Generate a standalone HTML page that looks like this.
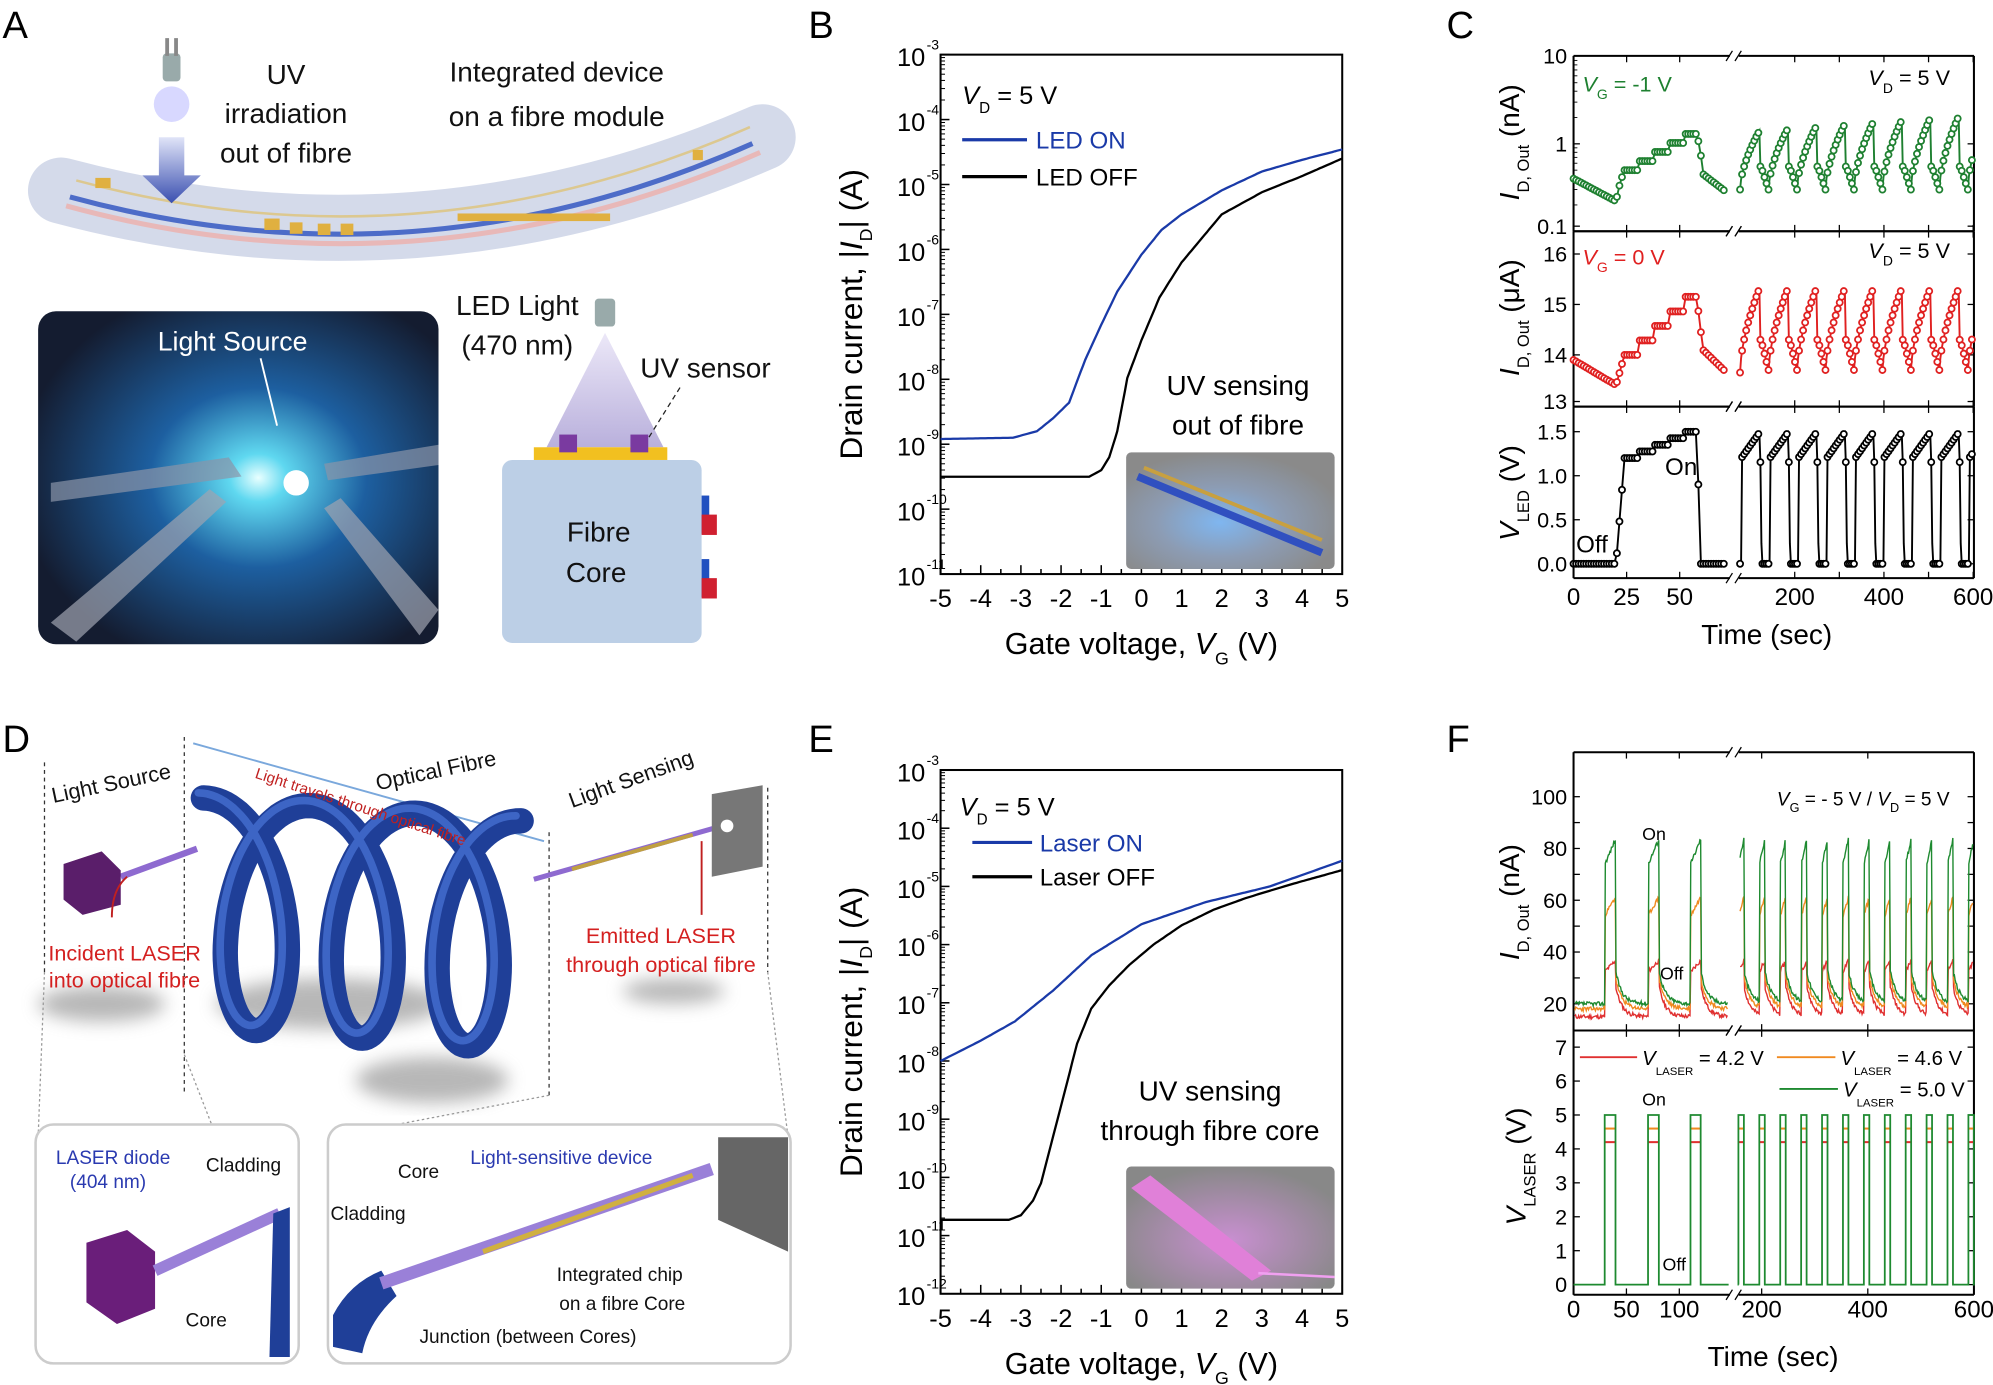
<!DOCTYPE html>
<html><head><meta charset="utf-8">
<style>
html,body{margin:0;padding:0;background:#fff;}
svg{display:block;}
text{font-family:"Liberation Sans",sans-serif;}
</style></head>
<body>
<svg id="s" xmlns="http://www.w3.org/2000/svg" width="1993" height="1385" viewBox="0 0 1568 1090" preserveAspectRatio="none">
<defs>
<radialGradient id="glow" cx="0.55" cy="0.5" r="0.6">
<stop offset="0" stop-color="#e8ffff"/><stop offset="0.12" stop-color="#5fd8f0"/><stop offset="0.45" stop-color="#1d5fa0"/><stop offset="1" stop-color="#141c30"/></radialGradient>
<linearGradient id="cone" x1="0" y1="0" x2="0" y2="1"><stop offset="0" stop-color="#ece8f8"/><stop offset="1" stop-color="#b9b0dc"/></linearGradient>
<linearGradient id="arrow" x1="0" y1="0" x2="0" y2="1"><stop offset="0" stop-color="#e0e4f8"/><stop offset="1" stop-color="#3a4fb0"/></linearGradient>
<radialGradient id="insB" cx="0.45" cy="0.6" r="0.6"><stop offset="0" stop-color="#7fb6f0"/><stop offset="0.5" stop-color="#8c9cb4"/><stop offset="1" stop-color="#8a8a8a"/></radialGradient>
<radialGradient id="insE" cx="0.5" cy="0.6" r="0.6"><stop offset="0" stop-color="#c88fd0"/><stop offset="1" stop-color="#888"/></radialGradient>
<filter id="blur"><feGaussianBlur stdDeviation="7"/></filter>
</defs>

<!-- panel letters -->
<g font-size="30" fill="#000">
<text x="2" y="30">A</text><text x="636" y="30">B</text><text x="1138" y="30">C</text>
<text x="2" y="592">D</text><text x="636" y="592">E</text><text x="1138" y="592">F</text>
</g>

<!-- ================= Panel A ================= -->
<g>
<path d="M48,150 Q330,225 600,108" stroke="#cfd6e8" stroke-width="52" fill="none" stroke-linecap="round" opacity="0.9"/>
<path d="M52,162 Q330,238 598,120" stroke="#e8b8b8" stroke-width="4" fill="none"/>
<path d="M55,155 Q330,230 592,113" stroke="#4d6cc8" stroke-width="4" fill="none"/>
<path d="M60,142 Q330,215 590,100" stroke="#dcc890" stroke-width="2" fill="none"/>
<g fill="#e0b040"><rect x="75" y="140" width="12" height="8"/><rect x="208" y="172" width="12" height="9"/><rect x="228" y="175" width="10" height="9"/><rect x="250" y="176" width="10" height="9"/><rect x="268" y="176" width="10" height="9"/><rect x="360" y="168" width="120" height="6"/><rect x="545" y="118" width="8" height="8"/></g>
<rect x="128" y="42" width="14" height="22" fill="#9aa" rx="3"/><rect x="130" y="30" width="3" height="14" fill="#888"/><rect x="137" y="30" width="3" height="14" fill="#888"/>
<circle cx="135" cy="82" r="14" fill="#c8c8ff" opacity="0.7"/>
<path d="M125,108 L145,108 L145,138 L158,138 L135,160 L112,138 L125,138Z" fill="url(#arrow)"/>
<g font-size="22" text-anchor="middle" fill="#111">
<text x="225" y="66">UV</text><text x="225" y="97">irradiation</text><text x="225" y="128">out of fibre</text>
<text x="438" y="64">Integrated device</text><text x="438" y="99">on a fibre module</text>
<text x="407" y="248">LED Light</text><text x="407" y="279">(470 nm)</text>
<text x="555" y="297">UV sensor</text>
</g>
<rect x="30" y="245" width="315" height="262" rx="14" fill="url(#glow)"/>
<path d="M40,380 L180,360 L190,375 L40,395Z" fill="#8a94a8" opacity="0.7"/>
<path d="M255,365 L345,350 L345,366 L258,378Z" fill="#8a94a8" opacity="0.7"/>
<path d="M40,490 L165,385 L178,395 L60,505Z" fill="#a0a4b0" opacity="0.7"/>
<path d="M330,500 L255,400 L268,392 L345,480Z" fill="#a0a4b0" opacity="0.7"/>
<circle cx="233" cy="380" r="10" fill="#fff"/>
<text x="183" y="276" font-size="21" fill="#fff" text-anchor="middle">Light Source</text>
<line x1="205" y1="282" x2="218" y2="335" stroke="#fff" stroke-width="1.5"/>
<rect x="468" y="235" width="16" height="22" rx="3" fill="#99aaaa"/>
<polygon points="476,262 430,352 522,352" fill="url(#cone)"/>
<rect x="420" y="352" width="105" height="10" fill="#f2c020"/>
<rect x="440" y="342" width="14" height="14" fill="#7a3aa0"/><rect x="496" y="342" width="14" height="14" fill="#7a3aa0"/>
<line x1="535" y1="305" x2="510" y2="345" stroke="#222" stroke-dasharray="4,3"/>
<rect x="395" y="362" width="157" height="144" rx="8" fill="#bccfe6"/>
<rect x="552" y="390" width="6" height="30" fill="#2050c0"/><rect x="552" y="405" width="12" height="16" fill="#d02030"/>
<rect x="552" y="440" width="6" height="30" fill="#2050c0"/><rect x="552" y="455" width="12" height="16" fill="#d02030"/>
<g font-size="22" text-anchor="middle" fill="#111"><text x="471" y="426">Fibre</text><text x="469" y="458">Core</text></g>
</g>

<!-- ================= Panel D ================= -->
<g>
<g stroke="#333" stroke-dasharray="3,3" fill="none">
<line x1="35" y1="600" x2="35" y2="765"/><line x1="145" y1="580" x2="145" y2="860"/><line x1="432" y1="655" x2="432" y2="862"/><line x1="604" y1="620" x2="604" y2="765"/>
</g>
<line x1="152" y1="585" x2="428" y2="662" stroke="#7aa8dc" stroke-width="1.5"/>
<g filter="url(#blur)" fill="#888" opacity="0.6"><ellipse cx="80" cy="790" rx="50" ry="14"/><ellipse cx="260" cy="790" rx="90" ry="20"/><ellipse cx="340" cy="850" rx="60" ry="18"/><ellipse cx="530" cy="780" rx="40" ry="10"/></g>
<path id="coil" d="" stroke="#1f3f98" stroke-width="20" fill="none" stroke-linecap="round"/>
<path id="coil2" d="" stroke="#4a76d8" stroke-width="6" fill="none" stroke-linecap="round" opacity="0.7"/>
<line x1="95" y1="690" x2="155" y2="668" stroke="#8e6ad0" stroke-width="5"/>
<line x1="420" y1="692" x2="568" y2="650" stroke="#8e6ad0" stroke-width="4"/>
<line x1="450" y1="684" x2="545" y2="657" stroke="#c0a040" stroke-width="3"/>
<polygon points="50,680 80,670 95,685 95,712 65,720 50,708" fill="#5a1e6a"/>
<polygon points="560,625 600,618 600,682 560,690" fill="#777"/>
<circle cx="572" cy="650" r="5" fill="#fff"/>
<g font-size="17" fill="#111">
<text transform="translate(42,632) rotate(-12)">Light Source</text>
<text transform="translate(297,622) rotate(-12)">Optical Fibre</text>
<text transform="translate(450,636) rotate(-20)">Light Sensing</text>
<text transform="translate(200,612) rotate(18)" font-size="12" fill="#c02020">Light travels through optical fibre</text>
</g>
<g font-size="17" fill="#d42020" text-anchor="middle">
<text x="98" y="756">Incident LASER</text><text x="98" y="777">into optical fibre</text>
<text x="520" y="742">Emitted LASER</text><text x="520" y="765">through optical fibre</text>
</g>
<path d="M88,722 Q88,700 100,690" stroke="#c02020" fill="none" stroke-width="1.5"/>
<line x1="552" y1="720" x2="552" y2="662" stroke="#c02020" stroke-width="1.5"/>
<g stroke="#999" stroke-dasharray="2,2" fill="none"><line x1="35" y1="765" x2="30" y2="895"/><line x1="145" y1="830" x2="235" y2="1060"/><line x1="432" y1="862" x2="260" y2="895"/><line x1="604" y1="765" x2="620" y2="895"/></g>
<rect x="28" y="885" width="207" height="188" rx="14" fill="#fff" stroke="#ccc" stroke-width="2"/>
<rect x="258" y="885" width="364" height="188" rx="14" fill="#fff" stroke="#ccc" stroke-width="2"/>
<polygon points="68,978 100,968 122,985 122,1030 92,1042 68,1025" fill="#6a1e7a"/>
<line x1="122" y1="1000" x2="220" y2="955" stroke="#9a80d8" stroke-width="9"/>
<path d="M215,955 L228,950 L228,1068 L212,1068Z" fill="#1f3f98"/>
<path d="M262,1060 L262,1035 Q275,1010 300,1000 L312,1020 Q290,1040 285,1065Z" fill="#1f3f98"/>
<line x1="300" y1="1010" x2="560" y2="920" stroke="#9a80d8" stroke-width="10"/>
<line x1="380" y1="985" x2="545" y2="925" stroke="#d0b040" stroke-width="4"/>
<polygon points="565,895 620,895 620,985 565,960" fill="#666"/>
<g font-size="15" fill="#111">
<text x="44" y="916" fill="#2a3ab0">LASER diode</text><text x="55" y="935" fill="#2a3ab0">(404 nm)</text>
<text x="162" y="922">Cladding</text><text x="146" y="1044">Core</text>
<text x="313" y="927">Core</text><text x="260" y="960">Cladding</text>
<text x="370" y="916" fill="#2a3ab0">Light-sensitive device</text>
<text x="438" y="1008">Integrated chip</text><text x="440" y="1031">on a fibre Core</text>
<text x="330" y="1057">Junction (between Cores)</text>
</g>
</g>

<!-- ================= Panel B ================= -->
<g id="B"></g>
<!-- ================= Panel E ================= -->
<g id="E"></g>
<!-- ================= Panel C ================= -->
<g id="C"></g>
<!-- ================= Panel F ================= -->
<g id="F"></g>
</svg>

<script>
var NS="http://www.w3.org/2000/svg";
function add(gid,html){document.getElementById(gid).insertAdjacentHTML('beforeend',html);}
function pathFrom(pts){return 'M'+pts.map(function(p){return p[0].toFixed(1)+','+p[1].toFixed(1)}).join('L');}
function interp(pts,step){var o=[];for(var i=0;i<pts.length-1;i++){var a=pts[i],b=pts[i+1];var n=Math.max(1,Math.ceil((b[0]-a[0])/step));for(var k=0;k<n;k++){var t=k/n;o.push([a[0]+(b[0]-a[0])*t,a[1]+(b[1]-a[1])*t]);}}o.push(pts[pts.length-1]);return o;}

// coil
(function(){var p=[],q=[];for(var i=0;i<=300;i++){var s=i/300,th=s*3*2*Math.PI;var x=160+250*s+48*Math.sin(th)*(0.9),y=700+18*s-80*Math.cos(th)*0.9+60*(1-Math.cos(th))*0.3;p.push([x,y]);}
document.getElementById('coil').setAttribute('d',pathFrom(p));document.getElementById('coil2').setAttribute('d',pathFrom(p.map(function(a){return [a[0]-4,a[1]-4]})));})();

function ivPanel(gid,top,dec,ndec,curves,legend,insetFill,insetY,txt){
 var L=740,R=1056,bot=top+dec*ndec;var s='';
 var X=function(v){return L+(v+5)*31.6}, Y=function(l){return top+dec*(-3-l)};
 s+='<rect x="'+L+'" y="'+top+'" width="'+(R-L)+'" height="'+(bot-top)+'" fill="none" stroke="#000" stroke-width="1.6"/>';
 for(var d=0;d<=ndec;d++){var y=top+d*dec;s+='<line x1="'+L+'" x2="'+(L+7)+'" y1="'+y+'" y2="'+y+'" stroke="#000" stroke-width="1.2"/>';
   for(var m=2;m<10;m++){if(d==ndec)break;var yy=y+dec-dec*Math.log10(m);s+='<line x1="'+L+'" x2="'+(L+3.5)+'" y1="'+yy.toFixed(1)+'" y2="'+yy.toFixed(1)+'" stroke="#000" stroke-width="0.8"/>';}
   s+='<text x="728" y="'+(y+9)+'" font-size="20" text-anchor="end">10</text><text x="729" y="'+(y-4)+'" font-size="11">'+(-3-d)+'</text>';}
 for(var v=-5;v<=5;v+=0.5){var x=X(v);var len=(v%1==0)?7:4;s+='<line x1="'+x+'" x2="'+x+'" y1="'+bot+'" y2="'+(bot-len)+'" stroke="#000" stroke-width="1.2"/>';}
 for(var v=-5;v<=5;v++){s+='<text x="'+X(v)+'" y="'+(bot+26)+'" font-size="20" text-anchor="middle">'+v+'</text>';}
 s+='<text x="898" y="'+(bot+63)+'" font-size="24" text-anchor="middle">Gate voltage, <tspan font-style="italic">V</tspan><tspan font-size="14" dy="8">G</tspan><tspan dy="-8"> (V)</tspan></text>';
 var cy=(top+bot)/2;
 s+='<text transform="translate(678,'+cy+') rotate(-90)" font-size="25" text-anchor="middle">Drain current, |<tspan font-style="italic">I</tspan><tspan font-size="14" dy="8">D</tspan><tspan dy="-8">| (A)</tspan></text>';
 s+='<rect x="886" y="'+insetY+'" width="164" height="'+(bot-4-insetY)+'" rx="4" fill="'+insetFill+'"/>';
 curves.forEach(function(c){var pts=interp(c.p.map(function(a){return [X(a[0]),Y(a[1])]}),2);s+='<path d="'+pathFrom(pts)+'" stroke="'+c.col+'" stroke-width="1.8" fill="none"/>';});
 s+=legend+txt;
 add(gid,s);
}
ivPanel('B',43,51.1,8,[
 {col:'#1a3aa8',p:[[-5,-8.92],[-3.2,-8.9],[-2.6,-8.8],[-2.2,-8.6],[-1.8,-8.36],[-1.4,-7.7],[-1,-7.16],[-0.6,-6.65],[0,-6.08],[0.5,-5.7],[1,-5.46],[2,-5.09],[3,-4.8],[4,-4.62],[5,-4.46]]},
 {col:'#000',p:[[-5,-9.5],[-1.3,-9.5],[-1.0,-9.4],[-0.8,-9.2],[-0.6,-8.8],[-0.35,-7.98],[0,-7.4],[0.45,-6.74],[1,-6.2],[2,-5.46],[3,-5.12],[4,-4.87],[5,-4.6]]}],
 '<text x="757" y="82" font-size="20"><tspan font-style="italic">V</tspan><tspan font-size="12" dy="7">D</tspan><tspan dy="-7"> = 5 V</tspan></text>'+
 '<line x1="757" x2="808" y1="110" y2="110" stroke="#1a3aa8" stroke-width="2.5"/><text x="815" y="117" font-size="19" fill="#1a3aa8">LED ON</text>'+
 '<line x1="757" x2="808" y1="139" y2="139" stroke="#000" stroke-width="2.5"/><text x="815" y="146" font-size="19">LED OFF</text>',
 'url(#insB)',356,
 '<text x="974" y="311" font-size="22" text-anchor="middle">UV sensing</text><text x="974" y="342" font-size="22" text-anchor="middle">out of fibre</text>'+
 '<line x1="895" y1="375" x2="1040" y2="435" stroke="#3050c0" stroke-width="6"/><line x1="900" y1="368" x2="1040" y2="425" stroke="#c8a040" stroke-width="3"/>');
ivPanel('E',606,45.8,9,[
 {col:'#1a3aa8',p:[[-5,-8],[-4,-7.65],[-3.15,-7.32],[-2.2,-6.79],[-1.24,-6.18],[0,-5.65],[1.6,-5.27],[3.2,-5.0],[5,-4.56]]},
 {col:'#000',p:[[-5,-10.73],[-3.3,-10.73],[-3.0,-10.65],[-2.7,-10.4],[-2.5,-10.1],[-2.2,-9.3],[-1.9,-8.5],[-1.6,-7.7],[-1.25,-7.1],[-0.8,-6.7],[-0.3,-6.35],[0.3,-6.0],[1.0,-5.67],[1.8,-5.4],[2.6,-5.2],[3.8,-4.95],[5,-4.72]]}],
 '<text x="755" y="642" font-size="20"><tspan font-style="italic">V</tspan><tspan font-size="12" dy="7">D</tspan><tspan dy="-7"> = 5 V</tspan></text>'+
 '<line x1="765" x2="812" y1="663" y2="663" stroke="#1a3aa8" stroke-width="2.5"/><text x="818" y="670" font-size="19" fill="#1a3aa8">Laser ON</text>'+
 '<line x1="765" x2="812" y1="690" y2="690" stroke="#000" stroke-width="2.5"/><text x="818" y="697" font-size="19">Laser OFF</text>',
 'url(#insE)',918,
 '<text x="952" y="866" font-size="22" text-anchor="middle">UV sensing</text><text x="952" y="897" font-size="22" text-anchor="middle">through fibre core</text>'+
 '<polygon points="890,935 905,925 1000,1000 985,1008" fill="#e080d8"/><line x1="990" y1="1002" x2="1050" y2="1005" stroke="#f0a0f0" stroke-width="2"/>');

// ---------- Panel C ----------
(function(){
 var L=1238,R=1553,BRK=1364;var s='';
 var tops=[44,182,320],bots=[182,320,455];
 function X(t){return t<=75?L+t*1.67:1412+(t-200)*0.351;}
 function frame(y0,y1,lastTicks){
  s+='<line x1="'+L+'" y1="'+y0+'" x2="'+L+'" y2="'+y1+'" stroke="#000" stroke-width="1.6"/><line x1="'+R+'" y1="'+y0+'" x2="'+R+'" y2="'+y1+'" stroke="#000" stroke-width="1.6"/>';
  [y0,y1].forEach(function(y){s+='<line x1="'+L+'" x2="'+(BRK-3)+'" y1="'+y+'" y2="'+y+'" stroke="#000" stroke-width="1.6"/><line x1="'+(BRK+4)+'" x2="'+R+'" y1="'+y+'" y2="'+y+'" stroke="#000" stroke-width="1.6"/>'+
   '<line x1="'+(BRK-6)+'" x2="'+(BRK-1)+'" y1="'+(y+4)+'" y2="'+(y-4)+'" stroke="#000"/><line x1="'+(BRK+1)+'" x2="'+(BRK+6)+'" y1="'+(y+4)+'" y2="'+(y-4)+'" stroke="#000"/>';});
  [0,25,50,200,300,400,500,600].forEach(function(t){var x=X(t);s+='<line x1="'+x+'" x2="'+x+'" y1="'+y1+'" y2="'+(y1-5)+'" stroke="#000"/><line x1="'+x+'" x2="'+x+'" y1="'+y0+'" y2="'+(y0+5)+'" stroke="#000"/>';});
 }
 frame(44,182);frame(182,320);frame(320,455);
 // y ticks
 function yt(y,lab){s+='<line x1="'+L+'" x2="'+(L+5)+'" y1="'+y+'" y2="'+y+'" stroke="#000"/><line x1="'+R+'" x2="'+(R-5)+'" y1="'+y+'" y2="'+y+'" stroke="#000"/>';if(lab!==null)s+='<text x="'+(L-5)+'" y="'+(y+6)+'" font-size="17" text-anchor="end">'+lab+'</text>';}
 var Yt=function(v){return 182-68.8*Math.log10(v/0.1)};
 yt(44,'10');yt(Yt(1),'1');yt(178,'0.1');
 for(var d=0;d<2;d++)for(var m=2;m<10;m++){var v=0.1*Math.pow(10,d)*m;var y=Yt(v);s+='<line x1="'+L+'" x2="'+(L+3)+'" y1="'+y+'" y2="'+y+'" stroke="#000" stroke-width="0.7"/>';}
 var Ym=function(v){return 319-39.7*(v-13)};
 yt(Ym(16),'16');yt(Ym(15),'15');yt(Ym(14),'14');yt(316,'13');
 var Yb=function(v){return 443.7-69.3*v};
 yt(Yb(0),'0.0');yt(Yb(0.5),'0.5');yt(Yb(1),'1.0');yt(Yb(1.5),'1.5');
 [0,25,50,200,400,600].forEach(function(t){s+='<text x="'+X(t)+'" y="476" font-size="19" text-anchor="middle">'+t+'</text>';});
 s+='<text x="1390" y="507" font-size="22" text-anchor="middle">Time (sec)</text>';
 // y labels
 s+='<text transform="translate(1195,112) rotate(-90)" font-size="22" text-anchor="middle"><tspan font-style="italic">I</tspan><tspan font-size="13" dy="8">D, Out</tspan><tspan dy="-8"> (nA)</tspan></text>';
 s+='<text transform="translate(1195,250) rotate(-90)" font-size="22" text-anchor="middle"><tspan font-style="italic">I</tspan><tspan font-size="13" dy="8">D, Out</tspan><tspan dy="-8"> (μA)</tspan></text>';
 s+='<text transform="translate(1195,388) rotate(-90)" font-size="22" text-anchor="middle"><tspan font-style="italic">V</tspan><tspan font-size="13" dy="8">LED</tspan><tspan dy="-8"> (V)</tspan></text>';
 s+='<text x="1245" y="72" font-size="17" fill="#1e8030"><tspan font-style="italic">V</tspan><tspan font-size="11" dy="6">G</tspan><tspan dy="-6"> = -1 V</tspan></text>';
 s+='<text x="1245" y="208" font-size="17" fill="#e02020"><tspan font-style="italic">V</tspan><tspan font-size="11" dy="6">G</tspan><tspan dy="-6"> = 0 V</tspan></text>';
 s+='<text x="1470" y="67" font-size="17"><tspan font-style="italic">V</tspan><tspan font-size="11" dy="6">D</tspan><tspan dy="-6"> =  5 V</tspan></text>';
 s+='<text x="1470" y="203" font-size="17"><tspan font-style="italic">V</tspan><tspan font-size="11" dy="6">D</tspan><tspan dy="-6"> =  5 V</tspan></text>';
 s+='<text x="1240" y="435" font-size="19">Off</text><text x="1310" y="374" font-size="19">On</text>';
 // data generators (pixel x -> value)
 function step(t){return Math.floor((t-24)/7)*7;}
 function leftTop(t){if(t<=20)return 0.4*Math.pow(0.22/0.4,t/20);if(t<=24)return 0.22+(0.5-0.22)*(t-20)/4;if(t<=58)return 0.5*Math.pow(1.3/0.5,Math.min(1,step(t)/28));if(t<=61)return 1.3-(1.3-0.45)*(t-58)/3;return 0.45*Math.pow(0.28/0.45,(t-61)/11);}
 function leftMid(t){if(t<=20)return 13.9-0.5*t/20;if(t<=24)return 13.4+0.6*(t-20)/4;if(t<=58)return 14.0+1.15*Math.min(1,step(t)/28);if(t<=61)return 15.15-1.05*(t-58)/3;return 14.1-0.45*(t-61)/11;}
 function leftBot(t){if(t<=20)return 0;if(t<=24)return 1.2*(t-20)/4;if(t<=58)return 1.2+0.3*Math.min(1,step(t)/28);if(t<=60)return 1.5*(60-t)/2;return 0;}
 var P=22.4,S0=1369;
 function cyc(x){var i=Math.floor((x-S0)/P),ph=x-S0-i*P;return [i,ph];}
 function rightTop(x){var c=cyc(x),i=c[0],ph=c[1];var pk=1.45+0.1*i;if(ph<=15.7)return 0.3*Math.pow(pk/0.3,Math.pow(ph/15.7,0.6));if(ph<=16.5)return 0.55;return 0.55*Math.pow(0.3/0.55,(ph-16.5)/5.9);}
 function rightMid(x){var c=cyc(x),ph=c[1];if(ph<=15.7)return 13.65+1.7*Math.pow(ph/15.7,0.6);if(ph<=16.5)return 14.3;return 14.3-0.6*(ph-16.5)/5.9;}
 function rightBot(x){var c=cyc(x),ph=c[1];if(ph<1)return 0;if(ph<=15.7)return 1.2+0.3*(ph-1)/14.7;if(ph<=17)return 1.5*(17-ph)/1.3;return 0;}
 function series(fL,fR,Ym_,col){var pts=[],mk=[];for(var t=0;t<=72;t+=1.2){var p=[X(t),Ym_(fL(t))];pts.push(p);}
  var pts2=[];for(var x=S0;x<=R-1;x+=0.8){pts2.push([x,Ym_(fR(x))]);}
  s+='<path d="'+pathFrom(pts)+'" stroke="'+col+'" stroke-width="1.5" fill="none"/><path d="'+pathFrom(pts2)+'" stroke="'+col+'" stroke-width="1.5" fill="none"/>';
  pts.forEach(function(p){s+='<circle cx="'+p[0].toFixed(1)+'" cy="'+p[1].toFixed(1)+'" r="2.4" fill="#fff" stroke="'+col+'" stroke-width="1.4"/>';});
  for(var k=0;k<pts2.length;k+=2){var p=pts2[k];s+='<circle cx="'+p[0].toFixed(1)+'" cy="'+p[1].toFixed(1)+'" r="2.4" fill="#fff" stroke="'+col+'" stroke-width="1.4"/>';}
 }
 series(leftTop,rightTop,Yt,'#1e8030');
 series(leftMid,rightMid,Ym,'#e02020');
 series(leftBot,rightBot,Yb,'#000');
 add('C',s);
})();

// ---------- Panel F ----------
(function(){
 var L=1238,R=1553,BRK=1364,top=592,mid=811,bot=1019;var s='';
 function X(t){return t<=150?L+t*0.832:1386+(t-200)*0.4175;}
 function frame(y0,y1){
  s+='<line x1="'+L+'" y1="'+y0+'" x2="'+L+'" y2="'+y1+'" stroke="#000" stroke-width="1.6"/><line x1="'+R+'" y1="'+y0+'" x2="'+R+'" y2="'+y1+'" stroke="#000" stroke-width="1.6"/>';
  [y0,y1].forEach(function(y){s+='<line x1="'+L+'" x2="'+(BRK-3)+'" y1="'+y+'" y2="'+y+'" stroke="#000" stroke-width="1.6"/><line x1="'+(BRK+4)+'" x2="'+R+'" y1="'+y+'" y2="'+y+'" stroke="#000" stroke-width="1.6"/>'+
   '<line x1="'+(BRK-6)+'" x2="'+(BRK-1)+'" y1="'+(y+4)+'" y2="'+(y-4)+'" stroke="#000"/><line x1="'+(BRK+1)+'" x2="'+(BRK+6)+'" y1="'+(y+4)+'" y2="'+(y-4)+'" stroke="#000"/>';});
  [0,50,100,200,400,600].forEach(function(t){var x=X(t);s+='<line x1="'+x+'" x2="'+x+'" y1="'+y1+'" y2="'+(y1-5)+'" stroke="#000"/><line x1="'+x+'" x2="'+x+'" y1="'+y0+'" y2="'+(y0+5)+'" stroke="#000"/>';});
 }
 frame(top,mid);frame(mid,bot);
 var Yt=function(v){return 627-2.0375*(v-100)}, Yb=function(v){return 1011-26.7*v};
 function yt(y,lab){s+='<line x1="'+L+'" x2="'+(L+5)+'" y1="'+y+'" y2="'+y+'" stroke="#000"/><line x1="'+R+'" x2="'+(R-5)+'" y1="'+y+'" y2="'+y+'" stroke="#000"/>';if(lab!==null)s+='<text x="'+(L-5)+'" y="'+(y+6)+'" font-size="17" text-anchor="end">'+lab+'</text>';}
 [20,40,60,80,100].forEach(function(v){yt(Yt(v),v);});[30,50,70,90].forEach(function(v){yt(Yt(v),null);});
 for(var v=0;v<=7;v++)yt(Yb(v),v);
 [0,50,100,200,400,600].forEach(function(t){s+='<text x="'+X(t)+'" y="1037" font-size="19" text-anchor="middle">'+t+'</text>';});
 s+='<text x="1395" y="1075" font-size="22" text-anchor="middle">Time (sec)</text>';
 s+='<text transform="translate(1195,710) rotate(-90)" font-size="22" text-anchor="middle"><tspan font-style="italic">I</tspan><tspan font-size="13" dy="8">D, Out</tspan><tspan dy="-8"> (nA)</tspan></text>';
 s+='<text transform="translate(1200,918) rotate(-90)" font-size="22" text-anchor="middle"><tspan font-style="italic">V</tspan><tspan font-size="13" dy="8">LASER</tspan><tspan dy="-8"> (V)</tspan></text>';
 s+='<text x="1398" y="634" font-size="15"><tspan font-style="italic">V</tspan><tspan font-size="10" dy="5">G</tspan><tspan dy="-5"> = - 5 V  / </tspan><tspan font-style="italic">V</tspan><tspan font-size="10" dy="5">D</tspan><tspan dy="-5"> =  5 V</tspan></text>';
 s+='<text x="1292" y="661" font-size="14">On</text><text x="1306" y="771" font-size="14">Off</text><text x="1292" y="870" font-size="14">On</text><text x="1308" y="1000" font-size="14">Off</text>';
 s+='<line x1="1243" x2="1288" y1="832" y2="832" stroke="#e03030" stroke-width="1.5"/><text x="1292" y="838" font-size="16"><tspan font-style="italic">V</tspan><tspan font-size="9" dy="8">LASER</tspan><tspan dy="-8"> = 4.2 V</tspan></text>';
 s+='<line x1="1398" x2="1444" y1="832" y2="832" stroke="#f08a20" stroke-width="1.5"/><text x="1448" y="838" font-size="16"><tspan font-style="italic">V</tspan><tspan font-size="9" dy="8">LASER</tspan><tspan dy="-8"> = 4.6 V</tspan></text>';
 s+='<line x1="1400" x2="1446" y1="857" y2="857" stroke="#1e8a30" stroke-width="1.5"/><text x="1450" y="863" font-size="16"><tspan font-style="italic">V</tspan><tspan font-size="9" dy="8">LASER</tspan><tspan dy="-8"> = 5.0 V</tspan></text>';
 var pulses=[[1262.5,8.5],[1296.6,8.5],[1330,8]];for(var i=0;i<12;i++)pulses.push([1367.7+i*16.45,4.3]);
 // bottom square waves
 function sq(level,col,segs){var d='';pulses.forEach(function(p,i){});}
 var dL='M'+L+','+Yb(0),dR='';
 pulses.forEach(function(p,i){if(i==3){dL+='L'+(BRK-4)+','+Yb(0);dR='M'+(BRK+4)+','+Yb(0);}
   var seg='L'+p[0]+','+Yb(0)+'L'+p[0]+','+Yb(5)+'L'+(p[0]+p[1])+','+Yb(5)+'L'+(p[0]+p[1])+','+Yb(0);
   if(i<3)dL+=seg;else dR+=seg;
   s+='<line x1="'+p[0]+'" x2="'+(p[0]+p[1])+'" y1="'+Yb(4.6)+'" y2="'+Yb(4.6)+'" stroke="#f08a20" stroke-width="1.6"/><line x1="'+p[0]+'" x2="'+(p[0]+p[1])+'" y1="'+Yb(4.2)+'" y2="'+Yb(4.2)+'" stroke="#e03030" stroke-width="1.6"/>';});
 dL+='';dR+='L'+(R-1)+','+Yb(0);
 s+='<path d="'+dL+'" stroke="#1e8a30" stroke-width="1.4" fill="none"/><path d="'+dR+'" stroke="#1e8a30" stroke-width="1.4" fill="none"/>';
 // top currents
 function cur(on,base,hi,lo,col,seed){
  var rnd=seed;function r(){rnd=(rnd*9301+49297)%233280;return rnd/233280-0.5;}
  function build(x0,x1,ps){var pts=[];var lastOff=x0-30;var lv=base+6;
   for(var x=x0;x<=x1;x+=0.6){var v;var inP=null;ps.forEach(function(p){if(x>=p[0]&&x<=p[0]+p[1])inP=p;});
    if(inP){var f=(x-inP[0])/inP[1];v=on*(0.9+0.12*f);lastOff=inP[0]+inP[1];}
    else{var dt=x-lastOff;v=base+(hi-base)*Math.exp(-dt/5);}
    v+=r()*1.6;pts.push([x,Yt(v)]);}
   return pts;}
  var a=build(L+1,BRK-5,pulses.slice(0,3)),b=build(BRK+5,R-1,pulses.slice(3));
  s+='<path d="'+pathFrom(a)+'" stroke="'+col+'" stroke-width="1.1" fill="none"/><path d="'+pathFrom(b)+'" stroke="'+col+'" stroke-width="1.1" fill="none"/>';
 }
 cur(36,15,27,0,'#e03030',11);
 cur(60,18,30,0,'#f08a20',23);
 cur(82,20,33,0,'#1e8a30',37);
 add('F',s);
})();
</script>
</body></html>
